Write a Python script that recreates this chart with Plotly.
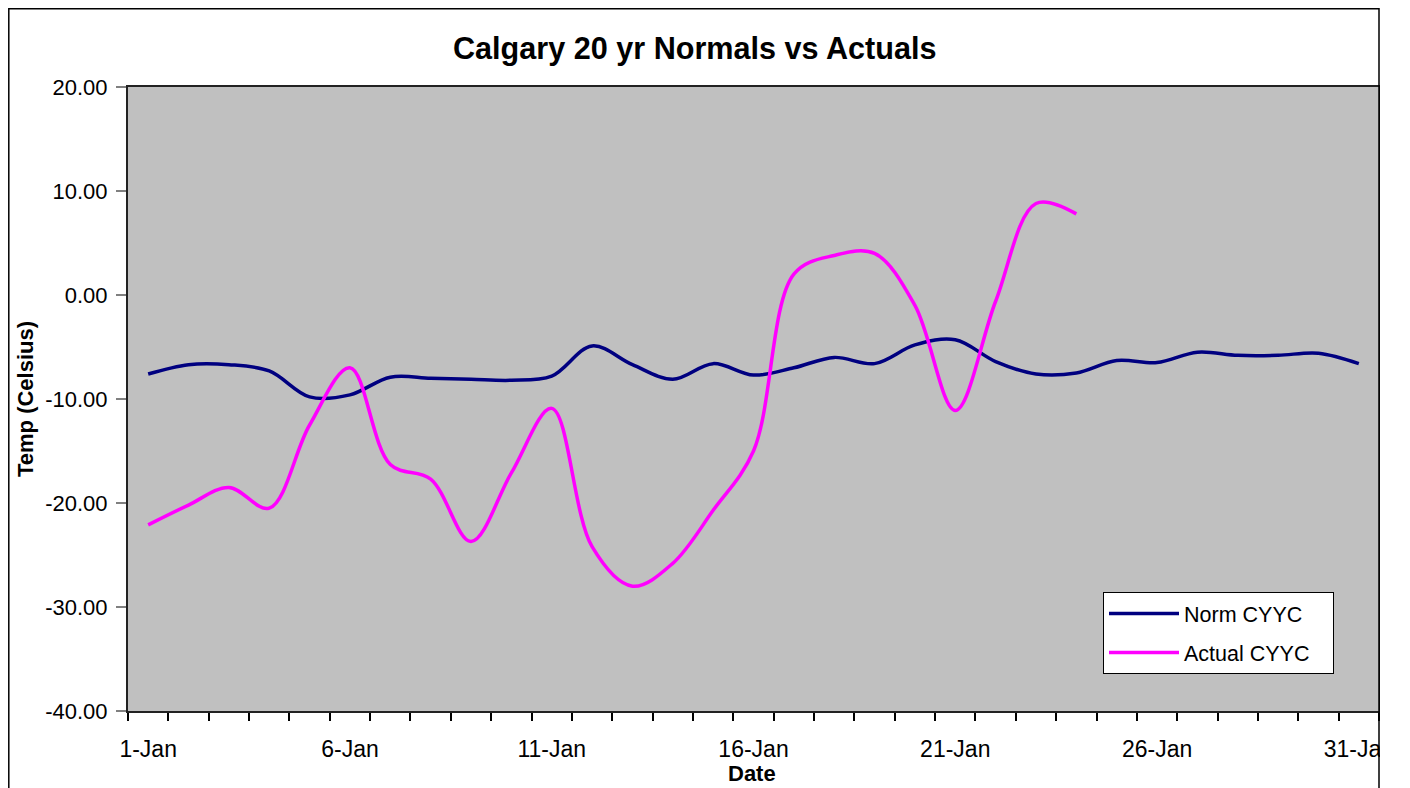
import plotly.graph_objects as go

dates = [f"{d}-Jan" for d in range(1, 32)]
label_dates = ["1-Jan", "6-Jan", "11-Jan", "16-Jan", "21-Jan", "26-Jan", "31-Jan"]

norm_cyyc = [-7.6, -6.7, -6.7, -7.3, -9.8, -9.6, -7.9, -8.0, -8.1, -8.2,
             -7.8, -4.9, -6.7, -8.1, -6.6, -7.7, -7.0, -6.0, -6.6, -4.8,
             -4.3, -6.4, -7.6, -7.5, -6.3, -6.5, -5.5, -5.8, -5.8, -5.6,
             -6.6]
actual_cyyc = [-22.1, -20.2, -18.5, -20.5, -12.5, -7.0, -16.3, -17.7, -23.7, -17.1,
               -10.9, -24.2, -28.0, -25.8, -20.7, -15.0, 2.0, 3.8, 4.0, -1.0,
               -11.1, -0.6, 8.8, 7.8]

y_ticks = [20, 10, 0, -10, -20, -30, -40]
y_ticktext = [f"{v:.2f}" for v in y_ticks]

# page offset of the plot div (body margin)
OFF = 8
W, H = 1410 - OFF, 788 - OFF
L, R, T, B = 128 - OFF, W - (1379 - OFF), 87 - OFF, H - (711 - OFF)
pw, ph = W - L - R, H - T - B

def px_x(p):
    return (p - OFF - L) / pw

def px_y(p):
    return (H - B - (p - OFF)) / ph

fig = go.Figure()
fig.add_trace(go.Scatter(
    x=dates, y=norm_cyyc, name="Norm CYYC", mode="lines",
    line=dict(color="#000080", width=3.5, shape="spline", smoothing=1.0),
    legendgroup="a",
))
fig.add_trace(go.Scatter(
    x=dates[:len(actual_cyyc)], y=actual_cyyc, name="Actual CYYC\u00a0\u00a0\u00a0", mode="lines",
    line=dict(color="#FF00FF", width=3.5, shape="spline", smoothing=1.0),
    legendgroup="b",
))

font_family = "Liberation Sans, Arial, sans-serif"

fig.update_layout(
    width=W, height=H,
    margin=dict(l=L, r=R, t=T, b=B, pad=0, autoexpand=False),
    paper_bgcolor="white",
    plot_bgcolor="#C0C0C0",
    font=dict(family=font_family, size=22, color="black"),
    showlegend=True,
    legend=dict(
        x=px_x(1103), y=px_y(592), xanchor="left", yanchor="top",
        bgcolor="white", bordercolor="black", borderwidth=1,
        font=dict(size=21.5, color="black"),
        tracegroupgap=8,
        itemwidth=70,
    ),
    annotations=[
        dict(text="<b>Calgary 20 yr Normals vs Actuals</b>", xref="paper", yref="paper",
             x=px_x(695), y=px_y(48), xanchor="center", yanchor="middle",
             showarrow=False, font=dict(size=30.6, color="black")),
        dict(text="<b>Temp (Celsius)</b>", xref="paper", yref="paper",
             x=px_x(25), y=px_y(399), xanchor="center", yanchor="middle",
             textangle=-90, showarrow=False, font=dict(size=22, color="black")),
        dict(text="<b>Date</b>", xref="paper", yref="paper",
             x=px_x(752), y=px_y(773), xanchor="center", yanchor="middle",
             showarrow=False, font=dict(size=22, color="black")),
    ],
)

fig.update_xaxes(
    type="category",
    categoryorder="array", categoryarray=dates,
    range=[-0.5, len(dates) - 0.5],
    tickmode="array", tickvals=dates,
    ticktext=[d if d in label_dates else "" for d in dates],
    tickson="boundaries", tickangle=0,
    ticks="outside", ticklen=8, tickwidth=1.5, tickcolor="black",
    showline=True, linecolor="#222222", linewidth=2, mirror=True,
    showgrid=False, zeroline=False, automargin=False,
    tickfont=dict(size=23, color="black"),
    ticklabelstandoff=16,
)
fig.update_yaxes(
    range=[-40, 20],
    tickmode="array", tickvals=y_ticks, ticktext=y_ticktext,
    ticks="outside", ticklen=10, tickwidth=1.5, tickcolor="#808080",
    showline=True, linecolor="#222222", linewidth=2, mirror=True,
    showgrid=False, zeroline=False, automargin=False,
    tickfont=dict(size=22, color="black"),
    ticklabelstandoff=4,
)

# white area right of the chart frame (clips the last label) and the chart frame
fig.add_shape(type="rect", xref="paper", yref="paper",
              x0=px_x(1380), x1=px_x(1430), y0=px_y(800), y1=px_y(-10),
              fillcolor="white", line=dict(width=0), layer="above")
fig.add_shape(type="rect", xref="paper", yref="paper",
              x0=px_x(8.8), x1=px_x(1379), y0=px_y(830), y1=px_y(8.8),
              fillcolor="rgba(0,0,0,0)", line=dict(color="black", width=1.5), layer="above")

fig.write_html("out.html")
